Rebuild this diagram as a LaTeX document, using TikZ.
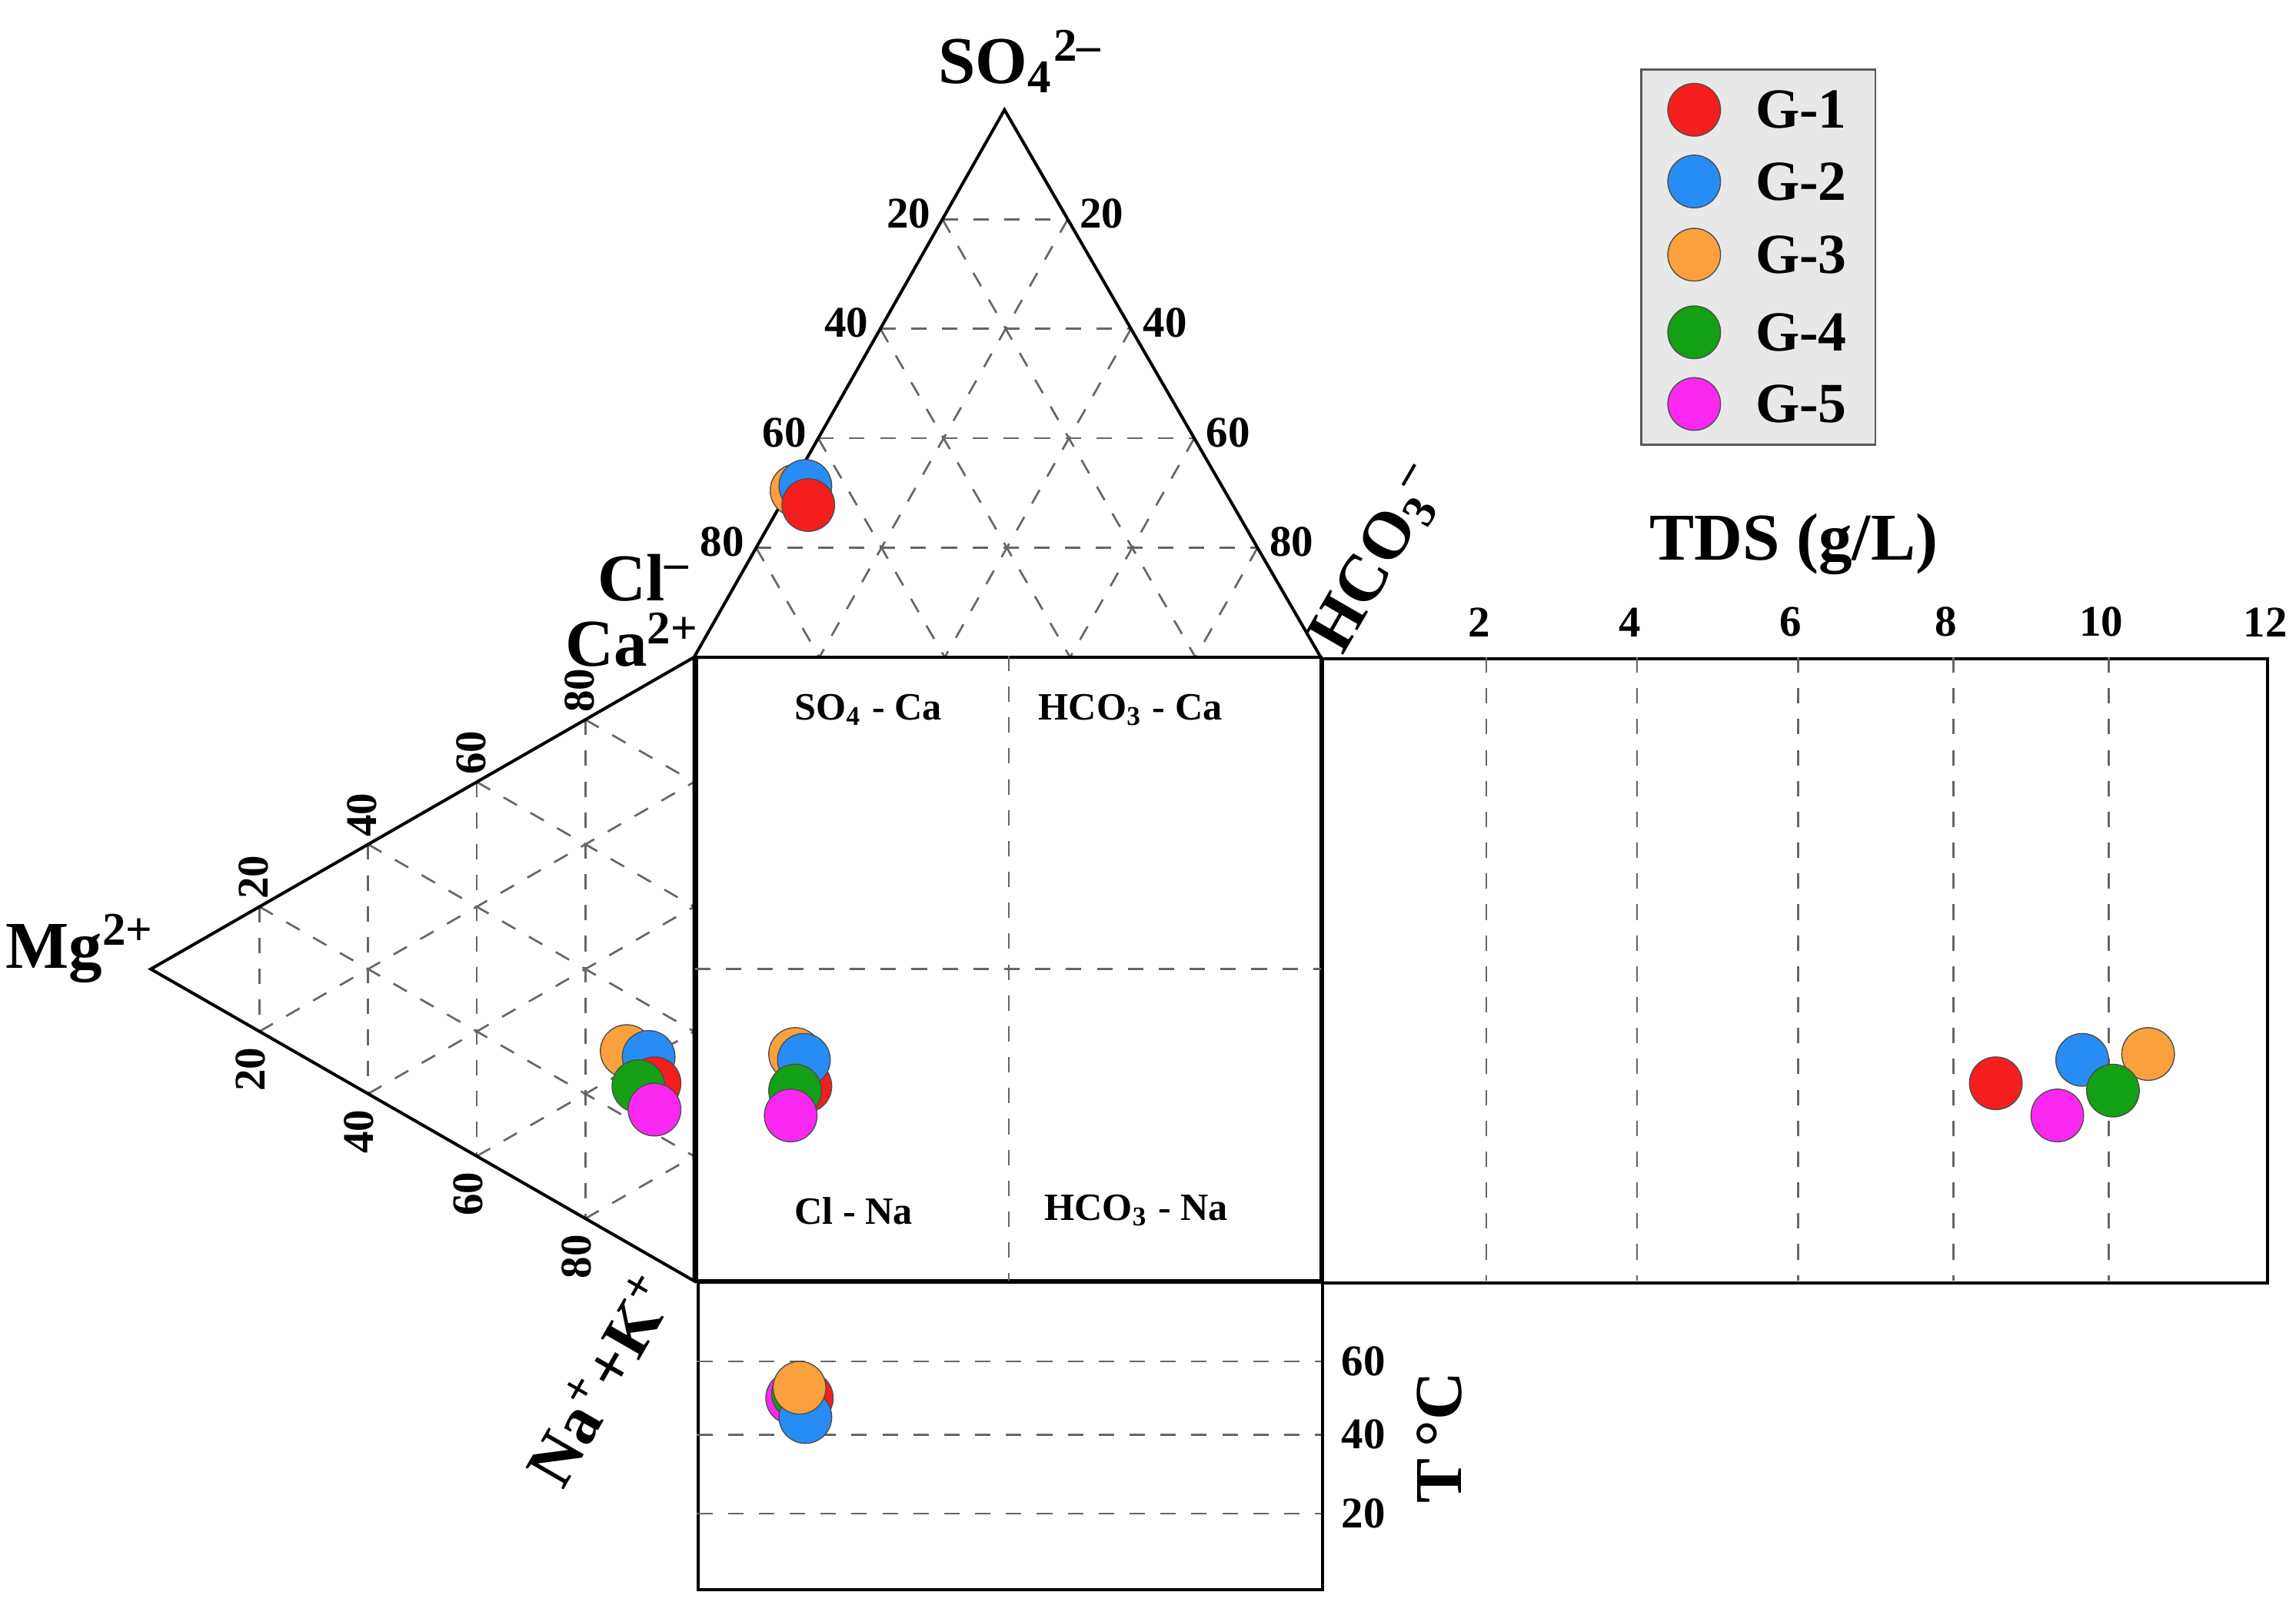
\documentclass[tikz,border=0pt]{standalone}
\usepackage{fontspec}
\setmainfont{Liberation Serif}
\usetikzlibrary{calc}

\definecolor{gA}{RGB}{245,30,30}
\definecolor{gB}{RGB}{40,140,245}
\definecolor{gC}{RGB}{250,160,60}
\definecolor{gD}{RGB}{20,160,20}
\definecolor{gE}{RGB}{250,40,240}

\tikzset{
  grd/.style={dashed, draw=gray!80!black, line width=0.4pt},
  frm/.style={draw=black, line width=0.6pt},
  tick/.style={font=\bfseries\fontsize{8.5}{9}\selectfont, inner sep=1pt},
  ion/.style={font=\bfseries\fontsize{13}{14}\selectfont, inner sep=1pt},
  reg/.style={font=\bfseries\fontsize{7.5}{8}\selectfont},
  pt/.style={draw=gray!60!black, line width=0.2pt},
}

\begin{document}
\begin{tikzpicture}[x=0.01cm, y=-0.01cm]

		\useasboundingbox (0,0) rectangle (1568,1101);

		\def \rad{18};

		% anion triangle
		\coordinate (apex) at (686,75);
		\coordinate (tl) at (474,449);
		\coordinate (tr) at (902,449);
		% cation triangle
		\coordinate (mg) at (103,662);
		\coordinate (ca) at (474,449);
		\coordinate (na) at (474,875);

		\foreach \t in {0.2,0.4,0.6,0.8}{
			\draw[grd] ($(apex)!\t!(tl)$) -- ($(apex)!\t!(tr)$);
			\draw[grd] ($(tl)!\t!(apex)$) -- ($(tl)!\t!(tr)$);
			\draw[grd] ($(tr)!\t!(apex)$) -- ($(tr)!\t!(tl)$);
			\draw[grd] ($(mg)!\t!(ca)$) -- ($(mg)!\t!(na)$);
			\draw[grd] ($(ca)!\t!(mg)$) -- ($(ca)!\t!(na)$);
			\draw[grd] ($(na)!\t!(mg)$) -- ($(na)!\t!(ca)$);
		}
		\draw[frm] (apex) -- (tl) -- (tr) -- cycle;
		\draw[frm] (mg) -- (ca) -- (na) -- cycle;

		% tick labels
		\foreach \k in {1,2,3,4}{
			\pgfmathtruncatemacro{\v}{20*\k}
			\node[tick, anchor=east] (la\k) at ($(apex)!0.2*\k!(tl)+(-4,-4)$) {\v};
			\node[tick, anchor=west] (ra\k) at ($(apex)!0.2*\k!(tr)+(4,-4)$) {\v};
			\node[tick, rotate=90] (uc\k) at ($(mg)!0.2*\k!(ca)+(-4,-20)$) {\v};
			\node[tick, rotate=90] (dc\k) at ($(mg)!0.2*\k!(na)+(-6,26)$) {\v};
		}

		% diamond square
		\node[frm, minimum width=4.26cm, minimum height=4.26cm, inner sep=0pt] (sq) at (689,662) {};
		\draw[grd] (sq.north) -- (sq.south);
		\draw[grd] (sq.west) -- (sq.east);
		\node[reg] (sqa) at (593,485) {SO\textsubscript{4} - Ca};
		\node[reg] (sqb) at (772,485) {HCO\textsubscript{3} - Ca};
		\node[reg] (sqc) at (583,827) {Cl - Na};
		\node[reg] (sqd) at (776,827) {HCO\textsubscript{3} - Na};

		% TDS box
		\node[frm, anchor=north west, minimum width=6.45cm, minimum height=4.26cm, inner sep=0pt] (tds) at (902,449) {};
		\foreach \x/\v in {1015/2,1118/4,1228/6,1334/8,1440/10}{
			\draw[grd] (\x,449) -- (\x,875);
			\node[tick] (tds\v) at (\x-5,425) {\v};
		}
		\node[tick] (tds12) at (1547,425) {12};
		\node[ion] (tdst) at (1225,372) {TDS (g/L)};

		% temperature box
		\node[frm, anchor=north west, minimum width=4.26cm, minimum height=2.10cm, inner sep=0pt] (tbox) at (476,875) {};
		\foreach \y/\v in {930/60,980/40,1034/20}{
			\draw[grd] (476,\y) -- (902,\y);
			\node[tick, anchor=west] (tc\v) at (912,\y) {\v};
		}
		\node[ion, rotate=90] (tct) at (983,982) {T\,°C};

		% ion labels
		\node[ion] (so4) at (697,42) {SO\textsubscript{4}\textsuperscript{2–}};
		\node[ion] (cl) at (440,395) {Cl\textsuperscript{–}};
		\node[ion] (cat) at (432,437) {Ca\textsuperscript{2+}};
		\node[ion] (mgt) at (55,648) {Mg\textsuperscript{2+}};
		\node[ion, rotate=60] (hco) at (942,382) {HCO\textsubscript{3}\textsuperscript{–}};
		\node[ion, rotate=60] (nak) at (410,942) {Na\textsuperscript{+}+K\textsuperscript{+}};

		% samples
		\fill[pt, fill=gC] (544,335) circle (\rad);
		\fill[pt, fill=gB] (550,332) circle (\rad);
		\fill[pt, fill=gA] (552,345) circle (\rad);

		\fill[pt, fill=gC] (428,718) circle (\rad);
		\fill[pt, fill=gB] (443,722) circle (\rad);
		\fill[pt, fill=gA] (447,740) circle (\rad);
		\fill[pt, fill=gD] (436,742) circle (\rad);
		\fill[pt, fill=gE] (447,758) circle (\rad);

		\fill[pt, fill=gC] (543,720) circle (\rad);
		\fill[pt, fill=gA] (550,742) circle (\rad);
		\fill[pt, fill=gB] (549,724) circle (\rad);
		\fill[pt, fill=gD] (543,745) circle (\rad);
		\fill[pt, fill=gE] (540,762) circle (\rad);

		\fill[pt, fill=gA] (1363,740) circle (\rad);
		\fill[pt, fill=gB] (1422,724) circle (\rad);
		\fill[pt, fill=gC] (1467,720) circle (\rad);
		\fill[pt, fill=gD] (1443,745) circle (\rad);
		\fill[pt, fill=gE] (1405,762) circle (\rad);

		\fill[pt, fill=gE] (541,955) circle (\rad);
		\fill[pt, fill=gA] (551,955) circle (\rad);
		\fill[pt, fill=gD] (545,952) circle (\rad);
		\fill[pt, fill=gB] (550,968) circle (\rad);
		\fill[pt, fill=gC] (546,948) circle (\rad);

		% legend
		\node[draw=gray!70!black, fill=gray!18, anchor=north west, minimum width=1.60cm, minimum height=2.56cm, inner sep=0pt] (leg) at (1120,47) {};
		\foreach \c/\g/\y in {gA/1/75,gB/2/124,gC/3/174,gD/4/227,gE/5/276}{
			\fill[pt, fill=\c] (1157,\y) circle (\rad);
			\node[ion, font=\bfseries\fontsize{11}{12}\selectfont] (g\g) at (1230,\y) {G-\g};
		}

	\end{tikzpicture}
\end{document}
